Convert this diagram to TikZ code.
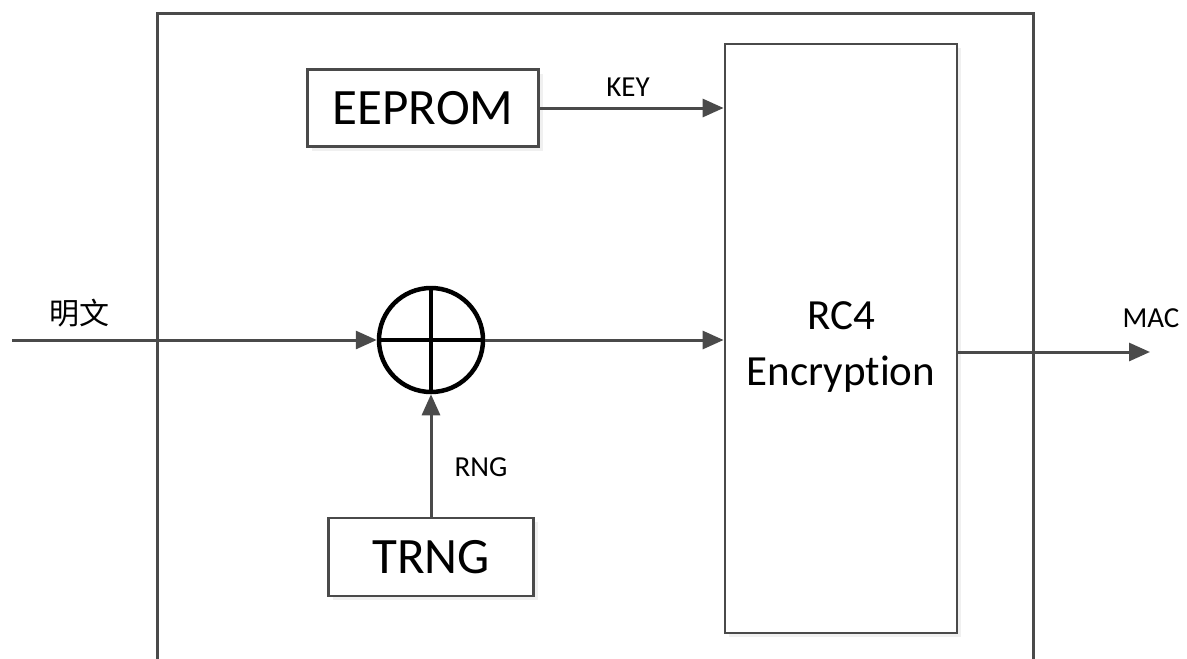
\documentclass[tikz,border=0pt]{standalone}
\usepackage{fontspec}
\setmainfont{Carlito}[Ligatures=NoCommon]
\newfontfamily\cjk{Noto Sans CJK SC}
\usetikzlibrary{arrows.meta,shadows}
\definecolor{linegray}{HTML}{4A4A4A}
\tikzset{
  blockbox/.style={draw=linegray, line width=2.8pt, fill=white, inner sep=0pt,
    drop shadow={opacity=0.12, shadow xshift=4pt, shadow yshift=-4pt}},
  sig/.style={draw=linegray, line width=3pt, -{Triangle[length=21pt,width=18pt]}},
  lbl/.style={inner sep=0pt, font=\fontsize{29}{34}\selectfont}
}
\begin{document}
\begin{tikzpicture}[x=1pt,y=1pt,yscale=-1,xscale=1]
\useasboundingbox (0,0) rectangle (1187,659);

%Outer frame
\draw[linegray, line width=3pt] (157,662) -- (157,13) -- (1033,13) -- (1033,662);

%Blocks
\node[blockbox, minimum width=231pt, minimum height=77pt, font=\fontsize{51}{56}\selectfont] (eeprom) at (423,108) {EEPROM};
\node[blockbox, minimum width=205pt, minimum height=78pt, font=\fontsize{51}{56}\selectfont] (trng) at (431,557) {TRNG};
\node[blockbox, minimum width=232pt, minimum height=589pt] (rc4) at (841,338.5) {};
\node[inner sep=0pt, align=center, font=\fontsize{43}{56}\selectfont] (rc4txt) at (841,347) {RC4\\Encryption};

%XOR
\node[draw=black, line width=4.5pt, circle, minimum size=104pt, inner sep=0pt] (xor) at (431,340) {};
\draw[black, line width=4pt] (xor.north) -- (xor.south) (xor.west) -- (xor.east);

%Connectors
\coordinate (in) at (12,340);
\coordinate (mac) at (1150,352);
\draw[sig] (in) -- (xor.west);
\draw[sig] (xor.east) -- (xor.east -| rc4.west);
\draw[sig] (trng.north) -- (xor.south);
\draw[sig] (eeprom.east) -- (eeprom.east -| rc4.west);
\draw[sig] (rc4.east |- mac) -- (mac);

% Text Node
\node[lbl] (keylbl) at (628,87) {KEY};
% Text Node
\node[lbl, font=\cjk\fontsize{30}{34}\selectfont] (ptlbl) at (79,313) {明文};
% Text Node
\node[lbl] (rnglbl) at (481,467) {RNG};
% Text Node
\node[lbl] (maclbl) at (1151,318) {MAC};
\end{tikzpicture}
\end{document}
